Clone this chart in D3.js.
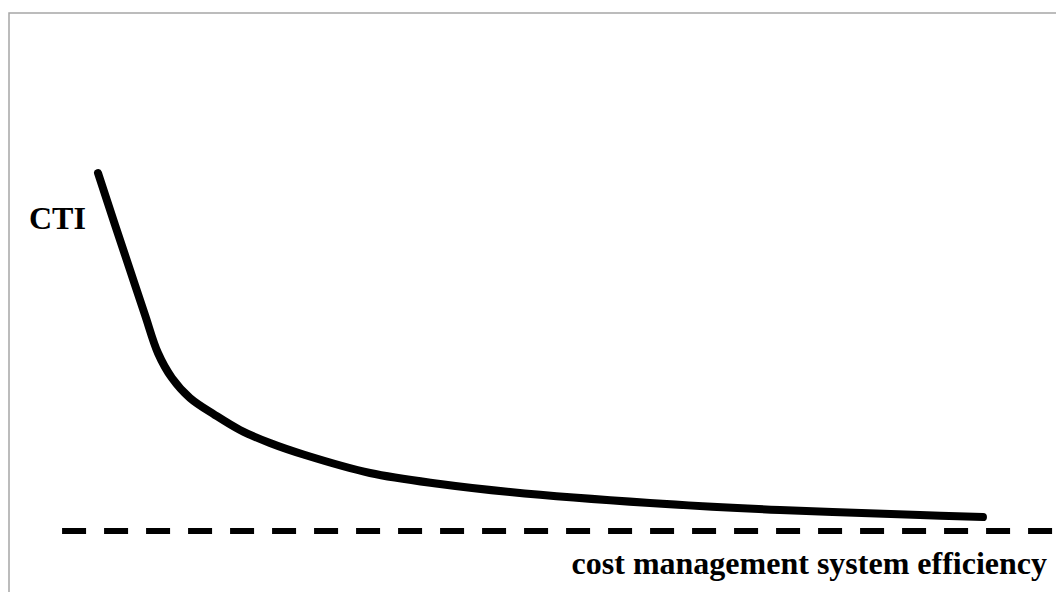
<!DOCTYPE html>
<html>
<head>
<meta charset="utf-8">
<script src="https://cdn.jsdelivr.net/npm/d3@7"></script>
<style>
  html, body { margin: 0; padding: 0; background: #fff; }
  svg { display: block; }
</style>
</head>
<body>
<div id="chart"></div>
<script>
// CTI vs cost management system efficiency - schematic curve
const efficiency = [0, 1.92, 3.61, 5.30, 6.76, 8.34, 10.37, 13.19, 16.01, 19.39, 23.34, 30.67, 38.56, 46.45, 62.23, 76.89, 92.67, 99.77];
const cti = [100, 85.47, 72.91, 60.34, 49.72, 42.74, 37.15, 32.40, 28.21, 24.58, 21.23, 16.20, 13.13, 10.89, 7.82, 5.87, 4.47, 3.91];
const baselineValue = [0];
const yLabel = 'CTI';
const xLabel = 'cost management system efficiency';

const width = 1056, height = 592;

const svg = d3.select('#chart')
    .append('svg')
    .attr('width', width)
    .attr('height', height)
    .attr('viewBox', `0 0 ${width} ${height}`);

// frame (extends past the right and bottom edges, like the cropped figure)
svg.append('rect')
    .attr('x', 9)
    .attr('y', 13)
    .attr('width', width + 20)
    .attr('height', height + 20)
    .attr('fill', '#fff')
    .attr('stroke', '#a6a6a6')
    .attr('stroke-width', 1.5);

const x = d3.scaleLinear().domain([0, 100]).range([98, 985]);
const y = d3.scaleLinear().domain([0, 100]).range([531, 173]);

// dashed baseline
svg.append('line')
    .attr('x1', x(-4.05))
    .attr('x2', width)
    .attr('y1', y(baselineValue[0]))
    .attr('y2', y(baselineValue[0]))
    .attr('stroke', '#000')
    .attr('stroke-width', 6)
    .attr('stroke-dasharray', '24 18');

// curve
const points = efficiency.map((e, i) => [e, cti[i]]);
const line = d3.line()
    .x(d => x(d[0]))
    .y(d => y(d[1]))
    .curve(d3.curveCatmullRom.alpha(0.5));

svg.append('path')
    .datum(points)
    .attr('d', line)
    .attr('fill', 'none')
    .attr('stroke', '#000')
    .attr('stroke-width', 8)
    .attr('stroke-linecap', 'round')
    .attr('stroke-linejoin', 'round');

// labels
svg.append('text')
    .attr('x', 29)
    .attr('y', 229)
    .attr('font-family', '"Liberation Serif", "Times New Roman", serif')
    .attr('font-weight', 'bold')
    .attr('font-size', 32)
    .text(yLabel);

svg.append('text')
    .attr('x', 1047)
    .attr('y', 574)
    .attr('text-anchor', 'end')
    .attr('font-family', '"Liberation Serif", "Times New Roman", serif')
    .attr('font-weight', 'bold')
    .attr('font-size', 32)
    .text(xLabel);
</script>
</body>
</html>
